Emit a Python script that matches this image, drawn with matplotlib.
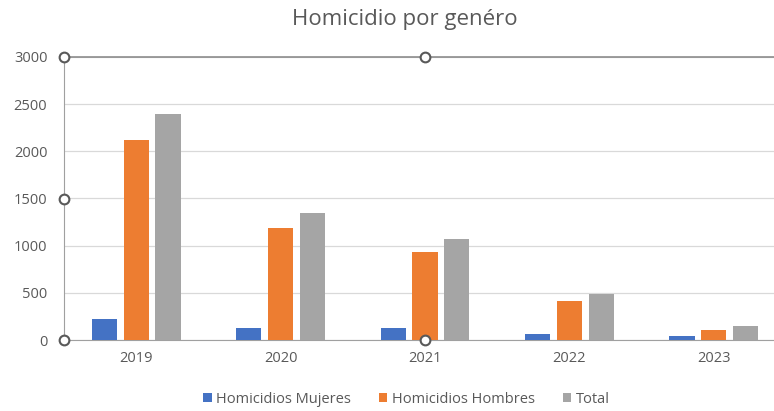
import numpy as np
import matplotlib.pyplot as plt

years = ['2019', '2020', '2021', '2022', '2023']
mujeres = [222, 127, 127, 64, 42]
hombres = [2120, 1190, 936, 417, 106]
total = [2400, 1345, 1075, 491, 145]

series = [('Homicidios Mujeres', mujeres, '#4472C4'),
          ('Homicidios Hombres', hombres, '#ED7D31'),
          ('Total', total, '#A5A5A5')]

plt.rcParams['font.family'] = ['Open Sans', 'DejaVu Sans']
W, H = 774, 411
fig = plt.figure(figsize=(W/100, H/100), dpi=100)
ax = fig.add_axes([64/W, (H-340)/H, 722/W, 283/H])

x = np.arange(len(years))
bw = 0.175
step = 0.22
for i, (name, vals, col) in enumerate(series):
	ax.bar(x + (i-1)*step, vals, bw, color=col, label=name, zorder=3)

ax.set_xlim(-0.5, len(years)-0.5)
ax.set_ylim(0, 3000)
ax.set_yticks(np.arange(0, 3001, 500))
ax.set_xticks(x)
ax.set_xticklabels(years)
ax.tick_params(length=0, colors='#595959', labelsize=10.5)
ax.tick_params(axis='y', pad=12)
ax.tick_params(axis='x', pad=8)
ax.grid(axis='y', color='#D9D9D9', lw=0.9, zorder=0)
ax.spines['right'].set_visible(False)
ax.spines['top'].set_color('#8C8C8C')
ax.spines['left'].set_color('#A0A0A0')
ax.spines['bottom'].set_color('#A0A0A0')
ax.spines['top'].set_linewidth(1.2)

# selection handles of the plot area
hx = [64, 425, 64, 64, 425]
hy = [57, 57, 199, 340, 340]
fig.add_artist(plt.Line2D([v/W for v in hx], [(H-v)/H for v in hy], ls='none',
	marker='o', ms=7, mfc='white', mec='#595959', mew=1.5, transform=fig.transFigure))

fig.text(0.523, 1 - 20/H, 'Homicidio por genéro', ha='center', va='center',
	fontsize=16, color='#595959')
fig.legend(loc='center', bbox_to_anchor=(0.525, 1 - 399/H), ncol=3, frameon=False,
	fontsize=10.5, handlelength=0.6, handleheight=0.6, handletextpad=0.3,
	columnspacing=1.9, labelcolor='#595959')

plt.savefig('out.png', dpi=100)
